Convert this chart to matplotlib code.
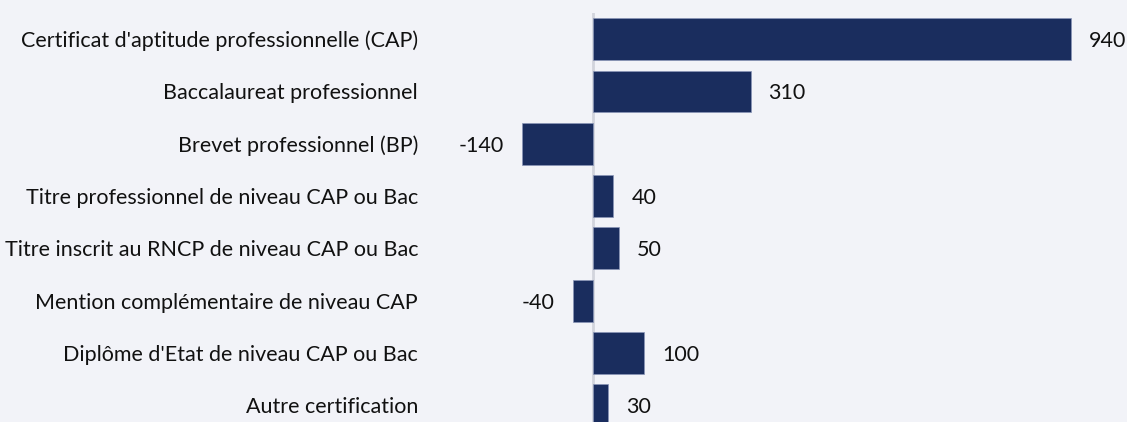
import matplotlib
matplotlib.use("Agg")
import matplotlib.pyplot as plt

categories = [
    "Certificat d'aptitude professionnelle (CAP)",
    "Baccalaureat professionnel",
    "Brevet professionnel (BP)",
    "Titre professionnel de niveau CAP ou Bac",
    "Titre inscrit au RNCP de niveau CAP ou Bac",
    "Mention complémentaire de niveau CAP",
    "Diplôme d'Etat de niveau CAP ou Bac",
    "Autre certification",
]
values = [940, 310, -140, 40, 50, -40, 100, 30]

bg = "#f2f3f8"
bar_color = "#1a2d5e"

plt.rcParams['font.family'] = ['Lato', 'DejaVu Sans']

fig = plt.figure(figsize=(11.27, 4.22), dpi=100, facecolor=bg)
ax = fig.add_axes([425 / 1127, 0, 702 / 1127, 409 / 422])
ax.set_facecolor(bg)

y = list(range(len(categories)))
ax.barh(y, values, height=0.8, color=bar_color, edgecolor="#8a96b8", linewidth=0.5, zorder=2)
ax.axvline(0, color="#d2d4dc", linewidth=2, zorder=1)

for yi, v in zip(y, values):
    if v >= 0:
        ax.annotate(str(v), (v, yi), xytext=(18, -2), textcoords="offset pixels",
                    ha="left", va="center", fontsize=15.5, color="#111111")
    else:
        ax.annotate(str(v), (v, yi), xytext=(-18, -2), textcoords="offset pixels",
                    ha="right", va="center", fontsize=15.5, color="#111111")

ax.set_xlim(-331, 1051)
ax.set_ylim(7.32, -0.5)
ax.set_yticks(y)
ax.set_yticklabels(categories, fontsize=15.5, color="#111111")
ax.tick_params(axis="y", length=0, pad=5)
ax.set_xticks([])
for s in ax.spines.values():
    s.set_visible(False)

fig.savefig("out.png", dpi=100, facecolor=bg)
